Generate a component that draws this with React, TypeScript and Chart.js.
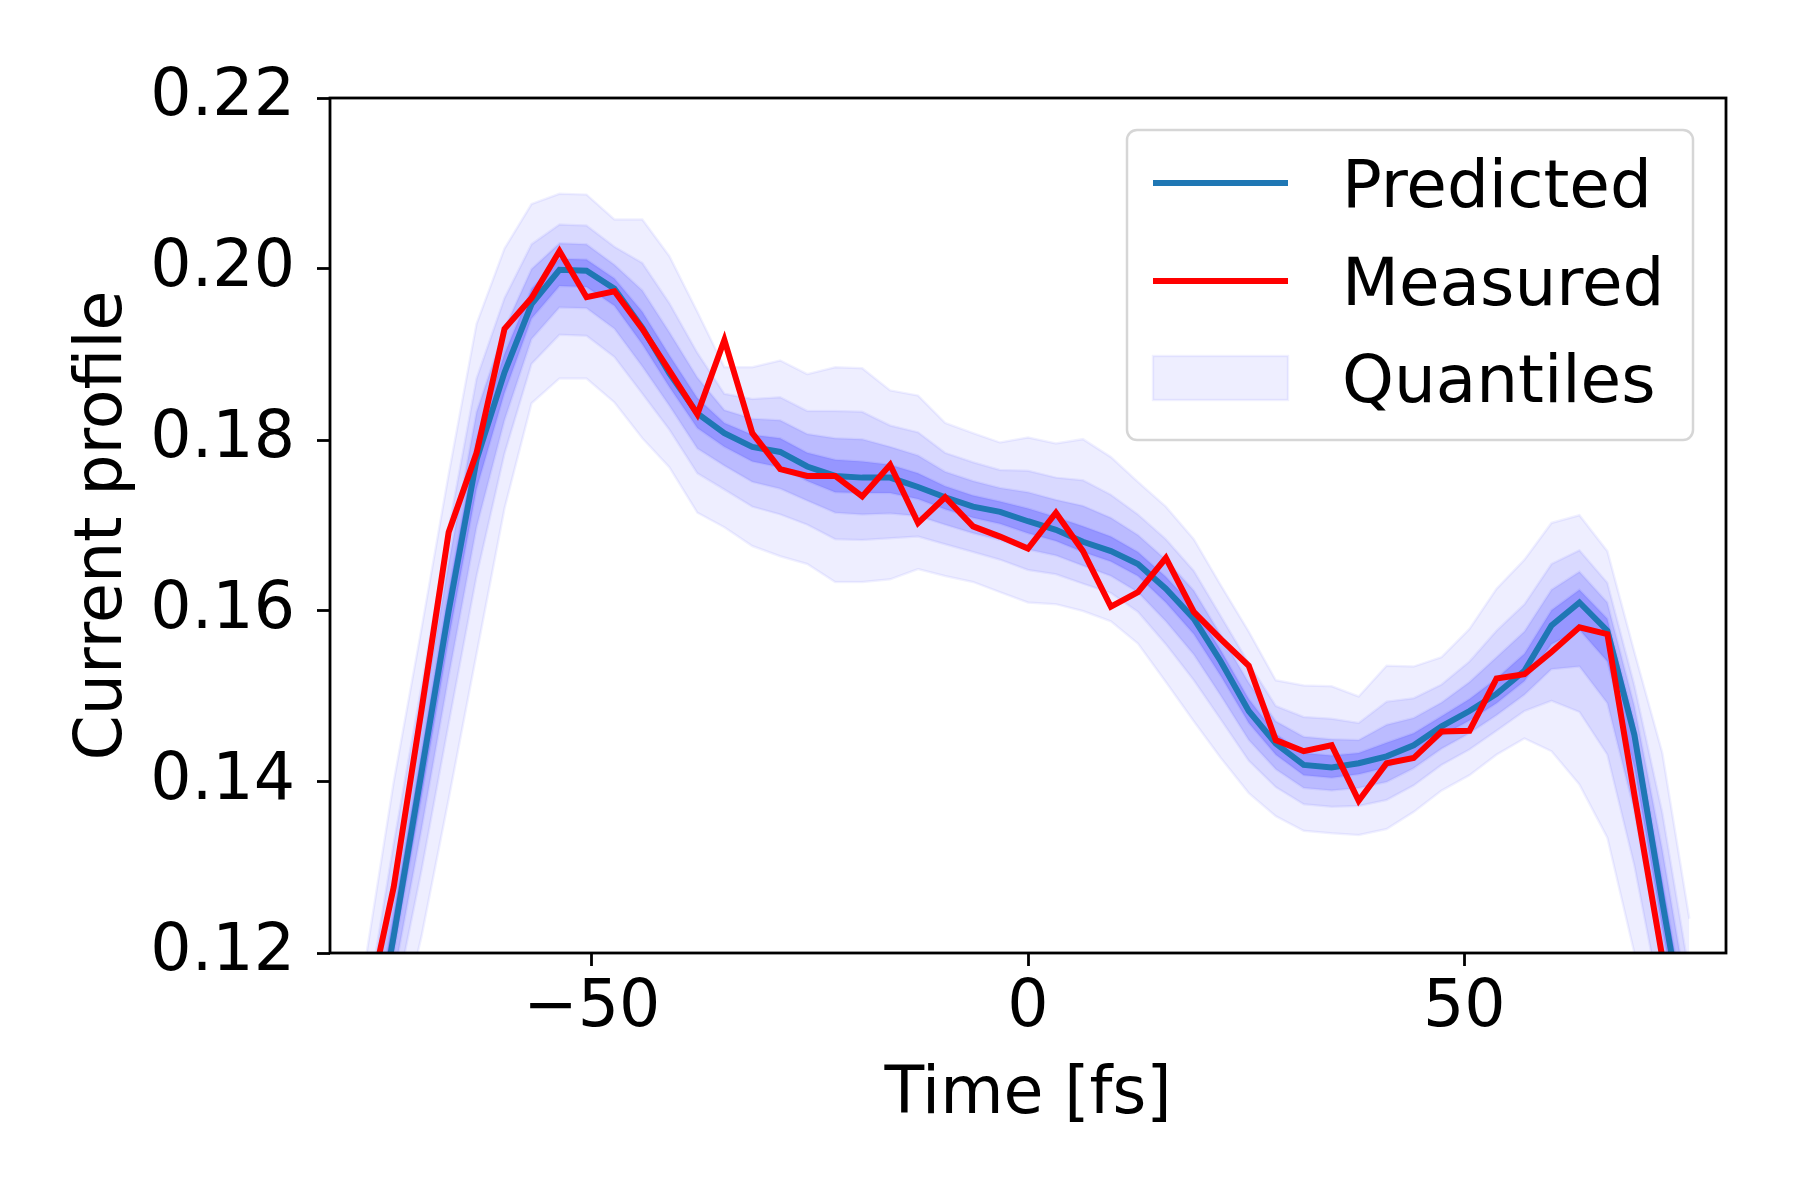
import { useEffect, useRef } from "react";
import { Chart, registerables, type Plugin } from "chart.js";

Chart.register(...registerables);

// time grid [fs]
const timeFs = [
  -75.8, -72.7, -69.5, -66.4, -63.2, -60.0, -56.9, -53.7, -50.6, -47.4, -44.2, -41.1,
  -37.9, -34.8, -31.6, -28.4, -25.3, -22.1, -19.0, -15.8, -12.6, -9.5, -6.3, -3.2, 0,
  3.2, 6.3, 9.5, 12.6, 15.8, 19.0, 22.1, 25.3, 28.4, 31.6, 34.8, 37.9, 41.1, 44.2,
  47.4, 50.6, 53.7, 56.9, 60.0, 63.2, 66.4, 69.5, 72.7, 75.8,
];

const predicted = [
  0.104, 0.122, 0.1412, 0.16, 0.1777, 0.1879, 0.1959, 0.1999, 0.1998, 0.1977,
  0.1931, 0.1878, 0.1831, 0.1808, 0.1792, 0.1786, 0.1769, 0.1758, 0.1756, 0.1756,
  0.1745, 0.1733, 0.1722, 0.1716, 0.1705,
  0.1695, 0.1681, 0.167, 0.1655, 0.1626, 0.1591, 0.1541, 0.1483, 0.1445, 0.142,
  0.1417, 0.1422, 0.143, 0.1443, 0.1465, 0.1483, 0.1503, 0.153, 0.1583, 0.161,
  0.1577, 0.1455, 0.126, 0.108,
];

const measured = [
  0.113, 0.1277, 0.1485, 0.1692, 0.1785, 0.193, 0.1966, 0.2021, 0.1967, 0.1974,
  0.193, 0.1881, 0.183, 0.1917, 0.1808, 0.1766, 0.1758, 0.1758, 0.1734, 0.1771,
  0.1703, 0.1733, 0.1699, 0.1687, 0.1673,
  0.1715, 0.167, 0.1605, 0.1622, 0.1662, 0.1599, 0.1567, 0.1536, 0.1449, 0.1436,
  0.1443, 0.1378, 0.1422, 0.1428, 0.1459, 0.146, 0.1521, 0.1526, 0.1552, 0.1581,
  0.1573, 0.1385, 0.1195, 0.1,
];

// quantile bands, outermost first
const q1Upper = [
  0.12, 0.14, 0.158, 0.176, 0.1936, 0.2024, 0.2076, 0.2088, 0.2087, 0.2058,
  0.2058, 0.2015, 0.195, 0.1885, 0.1885, 0.1893, 0.1877, 0.1885, 0.1884, 0.1858,
  0.1852, 0.182, 0.1808, 0.1797, 0.1803,
  0.1796, 0.1801, 0.178, 0.1751, 0.1722, 0.1684, 0.163, 0.1576, 0.1519, 0.1513,
  0.1512, 0.15, 0.1536, 0.1535, 0.1546, 0.1579, 0.1626, 0.166, 0.1703, 0.1712,
  0.167, 0.1552, 0.1434, 0.124,
];
const q1Lower = [
  0.095, 0.108, 0.122, 0.138, 0.155, 0.172, 0.1843, 0.1872, 0.1872, 0.1844,
  0.1802, 0.1768, 0.1715, 0.1698, 0.1676, 0.1664, 0.1655, 0.1634, 0.1634, 0.1637,
  0.1649, 0.1641, 0.1634, 0.1622, 0.161,
  0.1608, 0.16, 0.1588, 0.1562, 0.1517, 0.1471, 0.1428, 0.1387, 0.136, 0.1343,
  0.134, 0.1338, 0.1345, 0.1365, 0.139, 0.1408, 0.1432, 0.1451, 0.1436, 0.1397,
  0.1335, 0.12, 0.105, 0.09,
];
const q2Upper = [
  0.1136, 0.1328, 0.1513, 0.1696, 0.1872, 0.1966, 0.2029, 0.2052, 0.2051, 0.2026,
  0.2007, 0.196, 0.1902, 0.1854, 0.1848, 0.185, 0.1834, 0.1834, 0.1833, 0.1817,
  0.1809, 0.1785, 0.1774, 0.1765, 0.1764,
  0.1756, 0.1753, 0.1736, 0.1713, 0.1684, 0.1647, 0.1594, 0.1539, 0.1489, 0.1476,
  0.1474, 0.1469, 0.1494, 0.1498, 0.1514, 0.1541, 0.1577, 0.1608, 0.1655, 0.1671,
  0.1633, 0.1513, 0.1364, 0.1176,
];
const q2Lower = [
  0.0986, 0.1136, 0.1297, 0.1468, 0.1641, 0.1784, 0.1889, 0.1923, 0.1922, 0.1897,
  0.1854, 0.1812, 0.1761, 0.1742, 0.1722, 0.1713, 0.1701, 0.1684, 0.1683, 0.1685,
  0.1687, 0.1678, 0.1669, 0.166, 0.1648,
  0.1643, 0.1632, 0.1621, 0.1599, 0.1561, 0.1519, 0.1473, 0.1425, 0.1394, 0.1374,
  0.1371, 0.1372, 0.1379, 0.1396, 0.142, 0.1438, 0.146, 0.1483, 0.1495, 0.1482,
  0.1432, 0.1302, 0.1134, 0.0972,
];
const q3Upper = [
  0.1096, 0.1283, 0.1471, 0.1656, 0.1833, 0.193, 0.2, 0.203, 0.2029, 0.2005,
  0.1975, 0.1926, 0.1873, 0.1835, 0.1825, 0.1823, 0.1807, 0.1802, 0.1801, 0.1792,
  0.1782, 0.1763, 0.1752, 0.1744, 0.1739,
  0.173, 0.1723, 0.1709, 0.1689, 0.166, 0.1624, 0.1572, 0.1516, 0.1471, 0.1453,
  0.145, 0.1449, 0.1467, 0.1475, 0.1493, 0.1517, 0.1546, 0.1576, 0.1625, 0.1646,
  0.161, 0.1489, 0.1321, 0.1136,
];
const q3Lower = [
  0.1009, 0.1171, 0.1345, 0.1523, 0.1698, 0.1823, 0.1918, 0.1955, 0.1954, 0.193,
  0.1886, 0.184, 0.179, 0.177, 0.1751, 0.1743, 0.1729, 0.1715, 0.1713, 0.1714,
  0.1711, 0.1701, 0.1691, 0.1683, 0.1672,
  0.1665, 0.1653, 0.1641, 0.1622, 0.1588, 0.1549, 0.1501, 0.1449, 0.1415, 0.1393,
  0.139, 0.1393, 0.14, 0.1416, 0.1439, 0.1457, 0.1478, 0.1502, 0.1532, 0.1535,
  0.1492, 0.1366, 0.1187, 0.1017,
];
const q4Upper = [
  0.1064, 0.1247, 0.1437, 0.1624, 0.1801, 0.1901, 0.1977, 0.2012, 0.2011, 0.1989,
  0.195, 0.1899, 0.1849, 0.182, 0.1806, 0.1802, 0.1785, 0.1777, 0.1775, 0.1771,
  0.1761, 0.1746, 0.1735, 0.1728, 0.172,
  0.171, 0.1699, 0.1687, 0.1669, 0.164, 0.1605, 0.1554, 0.1497, 0.1456, 0.1434,
  0.1431, 0.1434, 0.1446, 0.1457, 0.1477, 0.1497, 0.1521, 0.155, 0.1601, 0.1625,
  0.1591, 0.147, 0.1286, 0.1104,
];
const q4Lower = [
  0.1027, 0.1199, 0.1383, 0.1567, 0.1743, 0.1855, 0.1942, 0.198, 0.1979, 0.1957,
  0.1912, 0.1862, 0.1814, 0.1792, 0.1775, 0.1768, 0.1752, 0.1739, 0.1738, 0.1738,
  0.1731, 0.1719, 0.1709, 0.1702, 0.1691,
  0.1682, 0.1669, 0.1658, 0.1641, 0.161, 0.1573, 0.1524, 0.1469, 0.1432, 0.1408,
  0.1405, 0.1409, 0.1417, 0.1431, 0.1454, 0.1472, 0.1492, 0.1518, 0.1561, 0.1578,
  0.1541, 0.1417, 0.1229, 0.1053,
];

const xTicks = [-50, 0, 50];
const yTicks = [0.12, 0.14, 0.16, 0.18, 0.2, 0.22];
const legendLabels = ["Predicted", "Measured", "Quantiles"];

const FONT = "DejaVu Sans";
const BLUE = "#1f77b4";
const RED = "#ff0000";
const BAND_EDGE = "rgba(0,0,255,0.06)";
const bandAlphas = [0.065, 0.09, 0.14, 0.2];

const toPoints = (ys: number[]) => timeFs.map((x, i) => ({ x, y: ys[i] }));

// all four spines on top of the data, like matplotlib
const framePlugin: Plugin = {
  id: "frame",
  afterDatasetsDraw(chart) {
    const { ctx, chartArea } = chart;
    ctx.save();
    ctx.strokeStyle = "#000";
    ctx.lineWidth = 2.8;
    ctx.strokeRect(chartArea.left, chartArea.top, chartArea.right - chartArea.left, chartArea.bottom - chartArea.top);
    ctx.restore();
  },
};

// matplotlib-style legend box in the upper right
const legendPlugin: Plugin = {
  id: "mplLegend",
  afterDraw(chart) {
    const { ctx, chartArea } = chart;
    const right = chartArea.right - 33;
    const top = chartArea.top + 32;
    const left = right - 566;
    const height = 310;
    ctx.save();
    ctx.beginPath();
    ctx.roundRect(left, top, right - left, height, 10);
    ctx.fillStyle = "rgba(255,255,255,0.8)";
    ctx.fill();
    ctx.strokeStyle = "#d6d6d6";
    ctx.lineWidth = 2.5;
    ctx.stroke();

    const rows = [top + 53, top + 151, top + 248];
    const hx0 = left + 26;
    const hx1 = left + 161;
    ctx.lineCap = "butt";
    ctx.lineWidth = 6;
    ctx.strokeStyle = BLUE;
    ctx.beginPath();
    ctx.moveTo(hx0, rows[0]);
    ctx.lineTo(hx1, rows[0]);
    ctx.stroke();
    ctx.strokeStyle = RED;
    ctx.beginPath();
    ctx.moveTo(hx0, rows[1]);
    ctx.lineTo(hx1, rows[1]);
    ctx.stroke();
    ctx.fillStyle = `rgba(0,0,255,${bandAlphas[0]})`;
    ctx.fillRect(hx0, rows[2] - 22, hx1 - hx0, 44);
    ctx.strokeStyle = BAND_EDGE;
    ctx.lineWidth = 2.5;
    ctx.strokeRect(hx0, rows[2] - 22, hx1 - hx0, 44);

    ctx.fillStyle = "#000";
    ctx.font = `66px "${FONT}"`;
    ctx.textAlign = "left";
    ctx.textBaseline = "alphabetic";
    legendLabels.forEach((label, i) => {
      ctx.fillText(label, left + 215, rows[i] + 24);
    });
    ctx.restore();
  },
};

export default function App() {
  const canvasRef = useRef<HTMLCanvasElement>(null);

  useEffect(() => {
    document.body.style.margin = "0";
    if (!canvasRef.current) return;

    const bands = [
      [q1Upper, q1Lower],
      [q2Upper, q2Lower],
      [q3Upper, q3Lower],
      [q4Upper, q4Lower],
    ];
    // higher order = drawn first (underneath the two curves)
    const bandSets = bands.flatMap(([up, lo], b) => [
      {
        data: toPoints(up),
        borderColor: BAND_EDGE,
        borderWidth: 2.5,
        backgroundColor: `rgba(0,0,255,${bandAlphas[b]})`,
        fill: "+1",
        pointRadius: 0,
        clip: 0,
        order: 10 - b,
      },
      {
        data: toPoints(lo),
        borderColor: BAND_EDGE,
        borderWidth: 2.5,
        fill: false,
        pointRadius: 0,
        clip: 0,
        order: 10 - b,
      },
    ]);

    const tickFont = { family: FONT, size: 65 };
    const gridOpts = {
      display: true,
      drawOnChartArea: false,
      drawTicks: true,
      tickLength: 13,
      tickWidth: 2.8,
      tickColor: "#000",
    };

    const chart = new Chart(canvasRef.current, {
      type: "line",
      data: {
        datasets: [
          ...bandSets,
          {
            label: "Predicted",
            data: toPoints(predicted),
            borderColor: BLUE,
            borderWidth: 6,
            fill: false,
            pointRadius: 0,
            clip: 0,
            order: 1,
          },
          {
            label: "Measured",
            data: toPoints(measured),
            borderColor: RED,
            borderWidth: 6,
            fill: false,
            pointRadius: 0,
            clip: 0,
            order: 0,
          },
        ],
      },
      options: {
        animation: false,
        responsive: false,
        devicePixelRatio: 1,
        layout: { padding: { top: 98, right: 74, left: 0, bottom: 0 } },
        elements: { line: { tension: 0 }, point: { radius: 0 } },
        plugins: { legend: { display: false }, tooltip: { enabled: false } },
        scales: {
          x: {
            type: "linear",
            min: -80,
            max: 80,
            afterBuildTicks: (s) => {
              s.ticks = xTicks.map((value) => ({ value }));
            },
            afterFit: (s) => {
              s.height = 247;
            },
            grid: gridOpts,
            border: { display: false },
            ticks: {
              autoSkip: false,
              maxRotation: 0,
              padding: 4,
              color: "#000",
              font: tickFont,
              callback: (v) => {
                const n = Number(v);
                return n < 0 ? "\u2212" + Math.abs(n) : String(n);
              },
            },
            title: {
              display: true,
              text: "Time [fs]",
              color: "#000",
              font: { family: FONT, size: 65, lineHeight: 1.2 },
              padding: { top: 0, bottom: 65 },
            },
          },
          y: {
            type: "linear",
            min: 0.12,
            max: 0.22,
            afterBuildTicks: (s) => {
              s.ticks = yTicks.map((value) => ({ value }));
            },
            afterFit: (s) => {
              s.width = 330;
            },
            grid: gridOpts,
            border: { display: false },
            ticks: {
              autoSkip: false,
              padding: 22,
              color: "#000",
              font: tickFont,
              callback: (v) => Number(v).toFixed(2),
            },
            title: {
              display: true,
              text: "Current profile",
              color: "#000",
              font: { family: FONT, size: 65, lineHeight: 1.2 },
              padding: { top: 65, bottom: 0 },
            },
          },
        },
      },
      plugins: [framePlugin, legendPlugin],
    });

    return () => chart.destroy();
  }, []);

  return (
    <div style={{ width: 1800, height: 1200, background: "#fff" }}>
      <canvas ref={canvasRef} width={1800} height={1200} />
    </div>
  );
}
